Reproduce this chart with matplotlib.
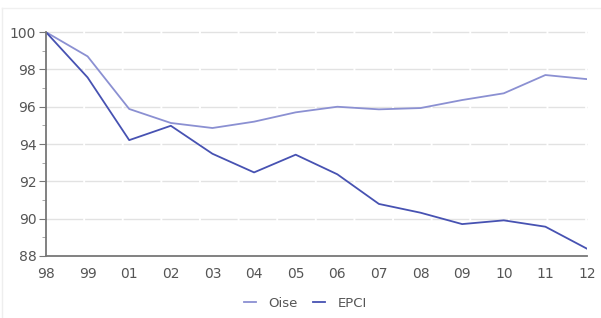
import matplotlib
matplotlib.use("Agg")
import matplotlib.pyplot as plt
from matplotlib.ticker import MultipleLocator

years = ["98", "99", "01", "02", "03", "04", "05", "06", "07", "08", "09", "10", "11", "12"]
oise = [100, 98.7, 95.88, 95.13, 94.86, 95.2, 95.7, 96.0, 95.86, 95.93, 96.36, 96.72, 97.7, 97.48]
epci = [100, 97.57, 94.21, 94.98, 93.48, 92.48, 93.43, 92.38, 90.79, 90.32, 89.71, 89.91, 89.57, 88.39]

fig = plt.figure(figsize=(6.01, 3.18), dpi=100)
ax = fig.add_axes([0.0765, 0.195, 0.9002, 0.704])

x = range(len(years))
ax.plot(x, oise, color="#8b90d2", lw=1.3, label="Oise")
ax.plot(x, epci, color="#4752b2", lw=1.3, label="EPCI")

ax.set_xlim(0, len(years) - 1)
ax.set_ylim(88, 100)
ax.set_xticks(list(x))
ax.set_xticklabels(years)
ax.yaxis.set_major_locator(MultipleLocator(2))
ax.yaxis.set_minor_locator(MultipleLocator(1))

# light horizontal grid, broken at each category
for v in range(90, 101, 2):
    ax.axhline(v, color="#e2e2e2", lw=1.0, dashes=(26.4, 1.4), zorder=0, clip_on=False)

for s in ["top", "right"]:
    ax.spines[s].set_visible(False)
for s in ["left", "bottom"]:
    ax.spines[s].set_color("#777777")
    ax.spines[s].set_linewidth(1.3)

ax.tick_params(axis="y", which="major", length=5, color="#777777", labelsize=10, labelcolor="#555555", pad=2)
ax.tick_params(axis="y", which="minor", length=3, color="#999999")
ax.tick_params(axis="x", length=0, labelsize=10, labelcolor="#555555", pad=8)

h, l = ax.get_legend_handles_labels()
leg = fig.legend(h, l, loc="center", bbox_to_anchor=(0.508, 0.047), ncol=2, frameon=False,
                 fontsize=9.5, handlelength=0.9, columnspacing=1.1, handletextpad=1.0)
for t in leg.get_texts():
    t.set_color("#555555")

# faint page frame
fig.add_artist(plt.Line2D([0.004, 0.004], [0, 0.975], color="#eeeeee", lw=1))
fig.add_artist(plt.Line2D([0.004, 1], [0.975, 0.975], color="#f0f0f0", lw=1))

fig.savefig("out.png", dpi=100)
